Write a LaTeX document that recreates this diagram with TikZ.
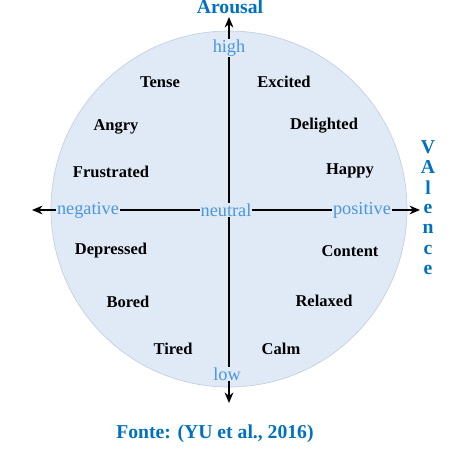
\documentclass[tikz,border=0pt]{standalone}
\usepackage{fontspec}
\setmainfont{Liberation Serif}
\usepackage{tikz}
\usetikzlibrary{arrows.meta}
\definecolor{title}{RGB}{0, 112, 192}
\definecolor{pole}{RGB}{72, 150, 225}
\definecolor{disc}{RGB}{224, 234, 246}
\definecolor{rim}{RGB}{196, 208, 224}

\begin{document}
\begin{tikzpicture}[x=0.02cm, y=-0.02cm, >={Stealth[length=6pt, width=5pt]},
    mood/.style={font=\fontsize{9.4}{11}\selectfont\bfseries},
    pole/.style={font=\fontsize{10.4}{12}\selectfont, text=pole, fill=disc, inner sep=0.5pt},
    axisname/.style={font=\fontsize{11.2}{13}\selectfont\bfseries, text=title}]
    \useasboundingbox (0,0) rectangle (455,455);

    % Disc
    \coordinate (O) at (229,209);
    \fill[disc] (O) circle (178);
    \draw[rim, thin] (O) circle (178);

    % Axes
    \coordinate (W) at (32,210);
    \coordinate (E) at (420,210);
    \coordinate (N) at (229,17);
    \coordinate (S) at (229,403);
    \draw[<->, line width=0.9pt] (W) -- (E);
    \draw[<->, line width=0.9pt] (N) -- (S);

    % Poles
    \node[pole] (high) at (229,48) {high};
    \node[pole] (low) at (227,374) {low};
    \node[pole] (negative) at (88,210) {negative};
    \node[pole] (neutral) at (226,210) {neutral};
    \node[pole] (positive) at (362,210) {positive};

    % Axis names
    \node[axisname] (arousal) at (230,7) {Arousal};
    \foreach \ch [count=\i from 0] in {V,A,l,e,n,c,e}
        \node[axisname, inner sep=0pt] (val\i) at (428,147+20.5*\i) {\ch};

    % Moods
    \node[mood] (tense) at (160,82) {Tense};
    \node[mood] (excited) at (284,82) {Excited};
    \node[mood] (angry) at (116,127) {Angry};
    \node[mood] (delighted) at (324,126) {Delighted};
    \node[mood] (frustrated) at (111,172) {Frustrated};
    \node[mood] (happy) at (350,171) {Happy};
    \node[mood] (depressed) at (111,251) {Depressed};
    \node[mood] (content) at (350,251) {Content};
    \node[mood] (bored) at (128,302) {Bored};
    \node[mood] (relaxed) at (324,301) {Relaxed};
    \node[mood] (tired) at (173,349) {Tired};
    \node[mood] (calm) at (281,349) {Calm};

    % Source
    \node[axisname] (fonte) at (215,434) {Fonte: (YU et al., 2016)};
\end{tikzpicture}
\end{document}
